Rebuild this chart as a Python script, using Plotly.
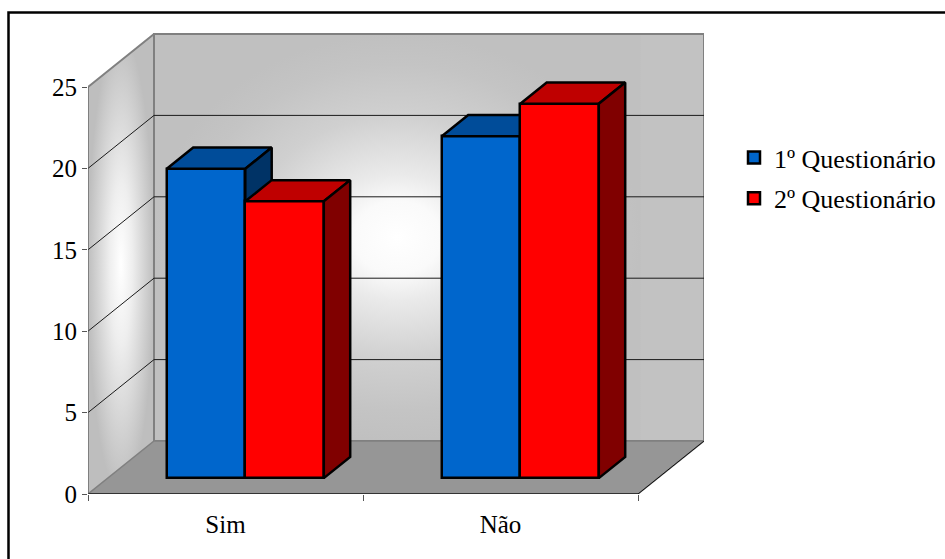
import plotly.graph_objects as go

# Survey answers per question round
categories = ["Sim", "Não"]
q1_values = [19, 21]
q2_values = [17, 23]
series_names = ["1º Questionário", "2º Questionário"]
y_ticks = [0, 5, 10, 15, 20, 25]

WIDTH, HEIGHT = 945, 559
LEFT, RIGHT, TOP, BOTTOM = 88, 704, 33, 494
PX_PER_CAT = 275.0
PX_PER_UNIT = 16.28

# Oblique depth of the chart box, in axis units
DX = 66 / PX_PER_CAT
DY = 53 / PX_PER_UNIT
X_RANGE = [0, (RIGHT - LEFT) / PX_PER_CAT]
Y_RANGE = [0, (BOTTOM - TOP) / PX_PER_UNIT]
N = len(categories)
TOP_VALUE = y_ticks[-1]

BAR_W = 78.5 / PX_PER_CAT
FRONT_GAP = 0.30   # share of the box depth in front of the bars
BAR_DEPTH = 0.40   # share of the box depth taken by the bars
GLOW_END = 1.77    # the wall's bright patch stops short of its right edge

WALL_EDGE = "#808080"
SERIF = "Liberation Serif"

fig = go.Figure()


def poly(xs, ys, fill, line_color="black", line_width=2.5, axes=("x", "y"), gradient=None):
    kwargs = dict(fillgradient=gradient) if gradient else dict(fillcolor=fill)
    line = dict(color=line_color, width=line_width) if line_width else dict(width=0)
    fig.add_trace(go.Scatter(
        x=xs, y=ys, mode="lines", fill="toself", line=line,
        xaxis=axes[0], yaxis=axes[1], showlegend=False, hoverinfo="skip",
        cliponaxis=False, **kwargs))


def segment(xs, ys, color, width=1):
    fig.add_trace(go.Scatter(
        x=xs, y=ys, mode="lines", line=dict(color=color, width=width),
        showlegend=False, hoverinfo="skip", cliponaxis=False))


# Back wall: flat grey base with a bright radial patch, then the shaded side wall
back_grad = dict(type="radial",
                 colorscale=[[0, "#ffffff"], [0.18, "#fafafa"], [0.31, "#eaeaea"],
                             [0.6, "#d0d0d0"], [0.85, "#c4c4c4"], [1, "#c0c0c0"]])
side_grad = dict(type="radial",
                 colorscale=[[0, "#ffffff"], [0.35, "#eeeeee"], [0.7, "#d4d4d4"], [1, "#bebebe"]])
poly([DX, DX + N, DX + N, DX, DX], [DY, DY, DY + TOP_VALUE, DY + TOP_VALUE, DY], "#c2c2c2", WALL_EDGE, 2)
poly([DX, GLOW_END + DX, GLOW_END + DX, DX, DX], [DY, DY, DY + TOP_VALUE, DY + TOP_VALUE, DY],
     None, line_width=0, gradient=back_grad)
segment([DX, DX + N, DX + N, DX, DX], [DY, DY, DY + TOP_VALUE, DY + TOP_VALUE, DY], WALL_EDGE, 2)
poly([0, DX, DX, 0, 0], [0, DY, DY + TOP_VALUE, TOP_VALUE, 0],
     None, line_width=0, gradient=side_grad)
segment([0, DX, DX], [TOP_VALUE, DY + TOP_VALUE, DY], WALL_EDGE, 2)

# Floor
poly([0, DX, DX + N, N, 0], [0, DY, DY, 0, 0], "#969696", WALL_EDGE, 1.5)

# Grid lines running along the side wall and the back wall
for v in y_ticks[1:-1]:
    segment([0, DX, DX + N], [v, v + DY, v + DY], "#1a1a1a", 1)

# Axis lines and remaining box edge
segment([N, N + DX], [0, DY], "#111111", 1)
segment([0, N], [0, 0], "#333333", 2)
segment([0, 0], [0, TOP_VALUE], "#555555", 1.2)

# Each series gets its own overlaid subplot so later bars hide earlier side faces
colors = [("#0066CC", "#004C99", "#003366"), ("#FF0000", "#BF0000", "#800000")]
base = FRONT_GAP * DY
x_shift = FRONT_GAP * DX
gap_left = (1 - 2 * BAR_W) / 2
for i, (name, vals) in enumerate(zip(series_names, [q1_values, q2_values])):
    front, top, side = colors[i]
    ax = (f"x{i + 2}", f"y{i + 2}")
    offset = gap_left + i * BAR_W + x_shift
    fig.add_trace(go.Bar(
        x=list(range(N)), y=vals, base=base, width=BAR_W, offset=offset, name=name,
        legendgroup=name,
        marker=dict(color=front, line=dict(color="black", width=2.5)),
        xaxis=ax[0], yaxis=ax[1], hoverinfo="skip"))
    bdx, bdy = BAR_DEPTH * DX, BAR_DEPTH * DY
    for c, v in enumerate(vals):
        x0 = c + offset
        x1 = x0 + BAR_W
        h = base + v
        poly([x0, x0 + bdx, x1 + bdx, x1, x0], [h, h + bdy, h + bdy, h, h], top, axes=ax)
        poly([x1, x1 + bdx, x1 + bdx, x1, x1], [base, base + bdy, h + bdy, h, base], side, axes=ax)


def px_x(p):
    return (p - LEFT) / (RIGHT - LEFT)


def px_y(p):
    return (BOTTOM - p) / (BOTTOM - TOP)


hidden = dict(visible=False, fixedrange=True)
fig.update_layout(
    width=WIDTH, height=HEIGHT, autosize=False,
    margin=dict(l=LEFT, r=WIDTH - RIGHT, t=TOP, b=HEIGHT - BOTTOM, pad=0),
    paper_bgcolor="white", plot_bgcolor="white",
    font=dict(family=SERIF, size=25, color="black"),
    barmode="overlay", bargap=0,
    xaxis=dict(range=X_RANGE, showgrid=False, zeroline=False, showline=False,
               tickvals=[c + 0.5 for c in range(N)], ticktext=categories, ticks="",
               ticklabelstandoff=13, tickfont=dict(size=25),
               minor=dict(tickvals=list(range(N + 1)), ticks="outside", ticklen=6,
                          tickcolor="#555555", tickwidth=1, showgrid=False)),
    yaxis=dict(range=Y_RANGE, showgrid=False, zeroline=False, showline=False,
               tickvals=y_ticks, ticks="outside", ticklen=5, tickcolor="#555555",
               tickwidth=1, tickfont=dict(size=25)),
    xaxis2=dict(range=X_RANGE, overlaying="x", **hidden),
    yaxis2=dict(range=Y_RANGE, overlaying="y", **hidden),
    xaxis3=dict(range=X_RANGE, overlaying="x", **hidden),
    yaxis3=dict(range=Y_RANGE, overlaying="y", **hidden),
    legend=dict(xref="container", yref="container", x=734 / WIDTH, y=1 - 134 / HEIGHT,
                xanchor="left", yanchor="top",
                font=dict(size=26), bgcolor="rgba(0,0,0,0)", tracegroupgap=4,
                entrywidth=130, entrywidthmode="pixels", borderwidth=0,
                traceorder="grouped", itemclick=False, itemdoubleclick=False),
    shapes=[dict(type="rect", xref="paper", yref="paper", layer="below",
                 x0=px_x(8.5), x1=px_x(960), y0=px_y(12.5), y1=px_y(575),
                 line=dict(color="black", width=2.5), fillcolor="rgba(0,0,0,0)")],
)
fig.write_html("out.html", config=dict(displayModeBar=False))
